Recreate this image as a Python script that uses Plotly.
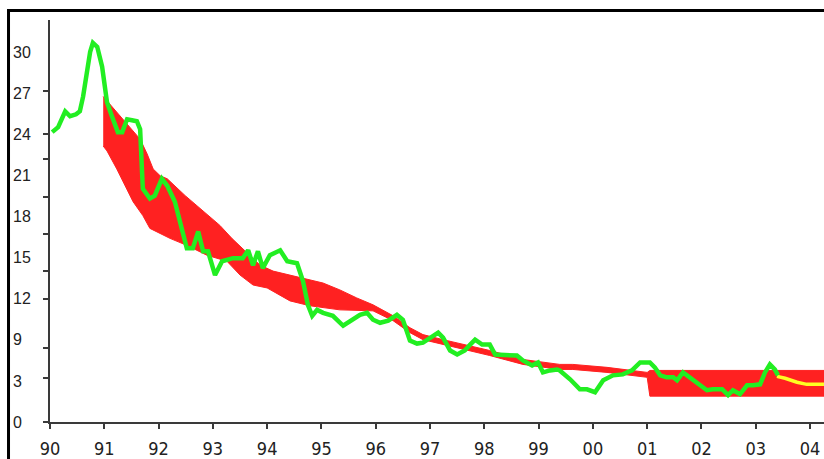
import plotly.graph_objects as go

# Observed series (decimal year, value)
obs_year = [1990.04, 1990.15, 1990.28, 1990.37, 1990.48, 1990.55, 1990.61, 1990.68, 1990.74, 1990.79,
            1990.87, 1990.96, 1991.01, 1991.05, 1991.14, 1991.25, 1991.33, 1991.42, 1991.51, 1991.60,
            1991.66, 1991.69, 1991.71, 1991.84, 1991.93, 1992.06, 1992.16, 1992.30, 1992.39, 1992.52,
            1992.63, 1992.73, 1992.82, 1992.91, 1993.04, 1993.17, 1993.37, 1993.55, 1993.65, 1993.74,
            1993.83, 1993.92, 1994.05, 1994.24, 1994.37, 1994.55, 1994.66, 1994.75, 1994.83, 1994.92,
            1995.03, 1995.21, 1995.40, 1995.56, 1995.71, 1995.84, 1995.95, 1996.08, 1996.23, 1996.39,
            1996.50, 1996.63, 1996.76, 1996.87, 1997.00, 1997.15, 1997.24, 1997.37, 1997.50, 1997.64,
            1997.74, 1997.83, 1997.96, 1998.10, 1998.20, 1998.34, 1998.60, 1998.71, 1998.88, 1998.99,
            1999.08, 1999.21, 1999.34, 1999.39, 1999.58, 1999.76, 1999.89, 2000.04, 2000.19, 2000.37,
            2000.55, 2000.72, 2000.87, 2001.05, 2001.14, 2001.24, 2001.36, 2001.48, 2001.55, 2001.66,
            2001.79, 2001.94, 2002.10, 2002.21, 2002.38, 2002.49, 2002.58, 2002.71, 2002.84, 2002.95,
            2003.08, 2003.17, 2003.26, 2003.35, 2003.41]
obs_value = [23.55, 23.95, 25.24, 24.84, 25.00, 25.24, 26.45, 28.63, 30.08, 30.81,
             30.48, 28.87, 27.26, 25.97, 24.84, 23.55, 23.55, 24.60, 24.52, 24.44,
             23.79, 21.61, 18.95, 18.15, 18.39, 19.76, 19.19, 17.90, 16.29, 14.11,
             14.11, 15.48, 13.87, 13.87, 11.94, 13.06, 13.31, 13.31, 13.95, 12.74,
             13.87, 12.50, 13.55, 13.95, 13.06, 12.90, 11.45, 9.52, 8.63, 9.11,
             8.87, 8.63, 7.82, 8.23, 8.71, 8.87, 8.31, 8.06, 8.23, 8.71,
             8.31, 6.61, 6.37, 6.45, 6.85, 7.26, 6.85, 5.81, 5.48, 5.81,
             6.29, 6.69, 6.29, 6.29, 5.48, 5.48, 5.40, 5.00, 4.60, 4.84,
             4.03, 4.19, 4.27, 4.19, 3.47, 2.66, 2.66, 2.42, 3.39, 3.79,
             3.87, 4.19, 4.84, 4.84, 4.44, 3.79, 3.63, 3.63, 3.39, 4.03,
             3.63, 3.06, 2.58, 2.66, 2.66, 2.18, 2.58, 2.26, 2.98, 2.98,
             3.06, 4.03, 4.68, 4.27, 3.79]

# Forecast band: upper and lower bounds
band_up_year = [1990.98, 1991.11, 1991.29, 1991.47, 1991.66, 1991.79, 1991.90, 1992.03, 1992.16, 1992.49,
                1992.82, 1993.13, 1993.35, 1993.55, 1993.87, 1994.11, 1994.42, 1994.61, 1995.03, 1995.34,
                1995.65, 1995.95, 1996.13, 1996.32, 1996.63, 1996.87, 1997.24, 1997.61, 1998.10, 1998.71,
                1999.08, 1999.39, 1999.63, 2000.26, 2001.00, 2001.05, 2004.26]
band_up = [26.45, 25.80, 24.84, 23.95, 22.98, 21.77, 20.56, 20.00, 19.76, 18.39,
           17.10, 15.97, 14.92, 14.11, 12.74, 12.26, 11.94, 11.77, 11.29, 10.73,
           10.08, 9.52, 9.11, 8.63, 7.66, 7.10, 6.69, 6.29, 5.81, 5.08,
           4.84, 4.68, 4.68, 4.44, 4.03, 4.19, 4.19]
band_lo_year = [1990.98, 1991.05, 1991.23, 1991.53, 1991.71, 1991.84, 1992.21, 1992.52, 1992.89, 1993.26,
                1993.50, 1993.74, 1994.00, 1994.42, 1994.79, 1995.34, 1995.95, 1996.32, 1996.63, 1996.87,
                1997.24, 1997.61, 1998.10, 1998.71, 1999.08, 1999.39, 1999.63, 2000.26, 2001.00, 2001.05,
                2004.26]
band_lo = [22.42, 22.02, 20.56, 17.90, 16.77, 15.73, 14.92, 14.35, 13.55, 13.06,
           11.94, 11.13, 10.89, 9.84, 9.44, 9.11, 9.03, 8.23, 7.26, 6.69,
           6.29, 5.89, 5.40, 4.68, 4.44, 4.27, 4.27, 4.03, 3.63, 2.10,
           2.10]

# Latest projection
proj_year = [2003.39, 2003.54, 2003.76, 2003.94, 2004.26]
proj_value = [3.71, 3.55, 3.23, 3.06, 3.06]

# Axis labelling
year_ticks = list(range(1990, 2005))
year_labels = ["90", "91", "92", "93", "94", "95", "96", "97", "98", "99",
               "00", "01", "02", "03", "04"]
y_tick_marks = [0, 3.55, 6.05, 9.98, 12.26, 15.24, 18.3, 21.4, 23.4, 26.9]
y_label_pos = [0, 3.33, 6.67, 10, 13.33, 16.67, 20, 23.33, 26.67, 30]
y_label_text = ["0", "3", "9", "12", "15", "18", "21", "24", "27", "30"]

RED = "#ff2121"
GREEN = "#22ee22"
YELLOW = "#ffff22"

fig = go.Figure()

# band as a closed polygon: upper edge forward, lower edge back
fig.add_trace(go.Scatter(
    x=band_up_year + band_lo_year[::-1],
    y=band_up + band_lo[::-1],
    mode="lines", fill="toself", fillcolor=RED,
    line=dict(color=RED, width=1), hoverinfo="skip", showlegend=False,
))
fig.add_trace(go.Scatter(
    x=proj_year, y=proj_value, mode="lines",
    line=dict(color=YELLOW, width=3.5), showlegend=False,
))
fig.add_trace(go.Scatter(
    x=obs_year, y=obs_value, mode="lines",
    line=dict(color=GREEN, width=4.5), showlegend=False,
))

axis_color = "#3a3a3a"
fig.update_xaxes(
    range=[1990, 2004.257], tickmode="array", tickvals=year_ticks, ticktext=year_labels,
    showgrid=False, zeroline=False, showline=True, linecolor=axis_color, linewidth=1.5,
    ticks="outside", ticklen=5, tickwidth=1.5, tickcolor=axis_color,
    tickfont=dict(family="Liberation Sans Narrow, DejaVu Sans Condensed, Arial Narrow, sans-serif",
                  size=18, color="#222222"),
    ticklabelstandoff=5,
)
fig.update_yaxes(
    range=[0, 32.66], tickmode="array", tickvals=y_tick_marks, showticklabels=False,
    showgrid=False, zeroline=False, showline=True, linecolor=axis_color, linewidth=1.5,
    ticks="outside", ticklen=5, tickwidth=1.5, tickcolor=axis_color,
)

# left-aligned value labels next to the border
for pos, txt in zip(y_label_pos, y_label_text):
    fig.add_annotation(
        x=-0.051, xref="paper", y=pos, yref="y", text=txt, showarrow=False,
        xanchor="left", yanchor="middle",
        font=dict(family="Liberation Sans, Arial, sans-serif", size=16, color="#222222"),
    )

# heavy black frame on the left and top edges
fig.add_shape(type="rect", xref="paper", yref="paper",
              x0=-0.0536, x1=1.3, y0=-0.5, y1=1.0235,
              line=dict(color="black", width=3), fillcolor="rgba(0,0,0,0)", layer="above")

fig.update_layout(
    width=824, height=459,
    margin=dict(l=50, r=0, t=20, b=34),
    paper_bgcolor="white", plot_bgcolor="white",
    showlegend=False,
)

fig.write_html("out.html")
